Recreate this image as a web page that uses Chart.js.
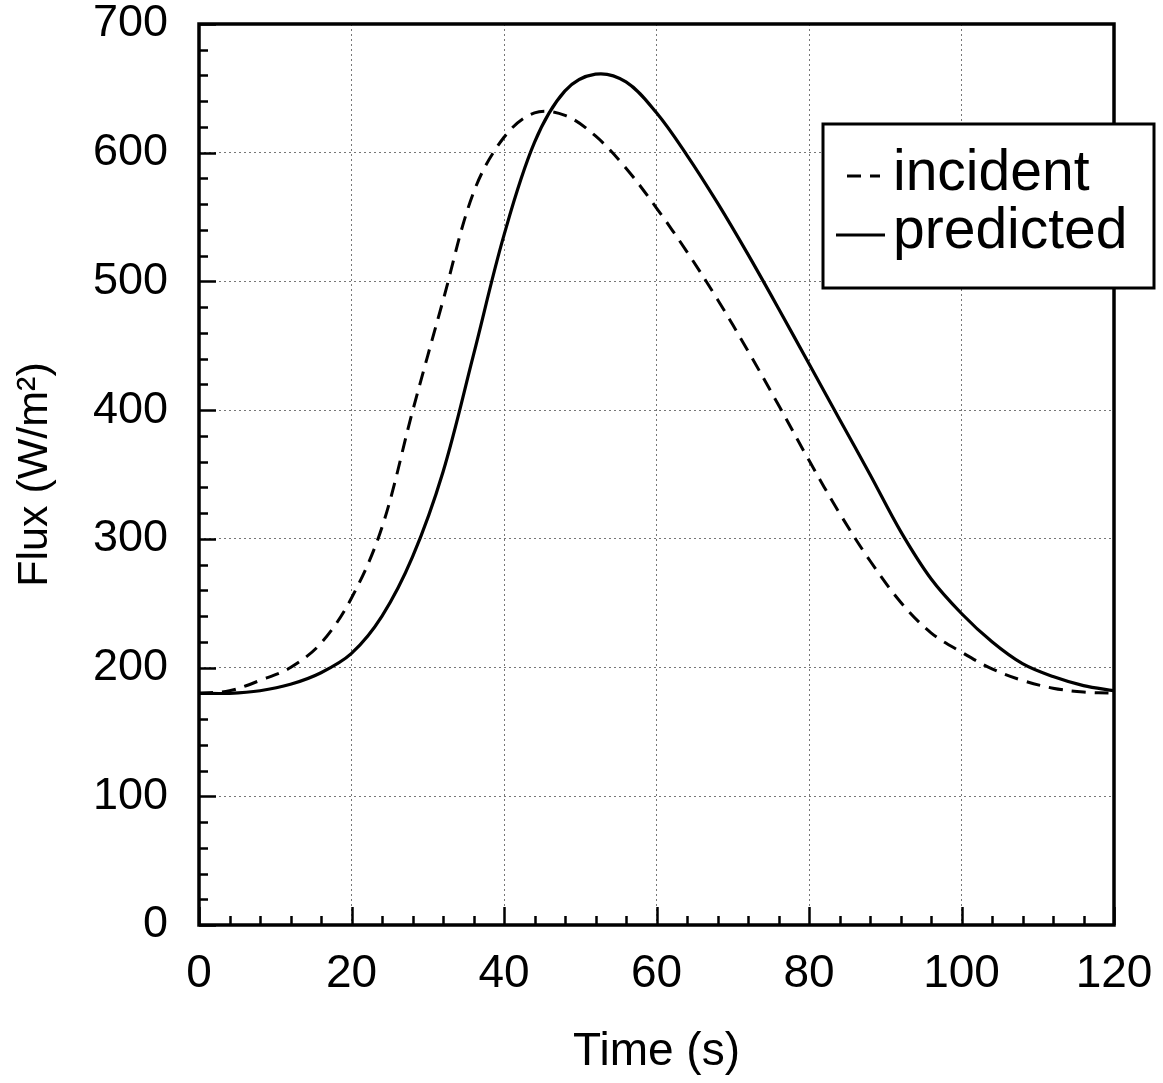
<!DOCTYPE html>
<html>
<head>
<meta charset="utf-8">
<script src="https://cdn.jsdelivr.net/npm/chart.js@4.4.1/dist/chart.umd.min.js"></script>
<style>
html, body { margin: 0; padding: 0; background: #fff; }
#wrap { width: 1163px; height: 1083px; }
</style>
</head>
<body>
<div id="wrap"><canvas id="fluxChart" width="1163" height="1083"></canvas></div>
<script>
// time (s)
var times = [0, 4, 8, 12, 16, 20, 24, 28, 32, 36, 40, 44, 48, 52, 56, 60,
    64, 68, 72, 76, 80, 84, 88, 92, 96, 100, 104, 108, 112, 116, 120];
// flux (W/m2)
var incident = [180, 182, 190, 200, 219, 254, 309, 399, 485, 569, 612, 631, 629, 613, 588, 557,
    523, 486, 446, 404, 361, 320, 283, 251, 227, 212, 199, 190, 184, 181, 180];
var predicted = [180, 180, 182, 187, 196, 211, 240, 286, 352, 443, 536, 608, 648, 661, 655, 631,
    598, 561, 521, 479, 436, 393, 350, 306, 269, 242, 220, 203, 193, 186, 182];

var seriesNames = ['incident', 'predicted'];
var xMajor = 20, xMinor = 4, xMax = 120;
var yMajor = 100, yMinor = 20, yMax = 700;

var fontName = '"Liberation Sans", Arial, Helvetica, sans-serif';

// inward ticks, frame and boxed legend like the original figure
const framePlugin = {
    id: 'frame',
    afterDraw(chart) {
        const ctx = chart.ctx;
        const a = chart.chartArea;
        const sx = chart.scales.x, sy = chart.scales.y;
        ctx.save();
        ctx.strokeStyle = '#000';
        ctx.lineWidth = 2.5;
        ctx.beginPath();
        for (let v = 0; v <= yMax; v += yMinor) {
            const y = Math.round(sy.getPixelForValue(v)) + 0.5;
            const len = v % yMajor === 0 ? 17 : 9;
            ctx.moveTo(a.left, y);
            ctx.lineTo(a.left + len, y);
        }
        for (let t = 0; t <= xMax; t += xMinor) {
            const x = Math.round(sx.getPixelForValue(t)) + 0.5;
            const len = t % xMajor === 0 ? 18 : 9;
            ctx.moveTo(x, a.bottom);
            ctx.lineTo(x, a.bottom - len);
        }
        ctx.stroke();

        ctx.lineWidth = 3.5;
        ctx.strokeRect(a.left, a.top, a.right - a.left, a.bottom - a.top);

        // legend box
        const bx = 823, by = 124, bw = 331, bh = 164;
        ctx.fillStyle = '#fff';
        ctx.fillRect(bx, by, bw, bh);
        ctx.lineWidth = 3;
        ctx.strokeRect(bx, by, bw, bh);

        ctx.fillStyle = '#000';
        ctx.font = '57px ' + fontName;
        ctx.textBaseline = 'alphabetic';
        ctx.textAlign = 'left';

        const ds = chart.data.datasets;
        ctx.lineWidth = 3;
        ctx.setLineDash(ds[0].borderDash);
        ctx.beginPath();
        ctx.moveTo(847, 176);
        ctx.lineTo(880, 176);
        ctx.stroke();
        ctx.setLineDash([]);
        ctx.beginPath();
        ctx.moveTo(836, 235);
        ctx.lineTo(885, 235);
        ctx.stroke();

        ctx.fillText(ds[0].label, 893, 190);
        ctx.fillText(ds[1].label, 893, 248);
        ctx.restore();
    }
};

const data = {
    datasets: [
        {
            label: seriesNames[0],
            data: times.map((t, i) => ({ x: t, y: incident[i] })),
            borderColor: '#000',
            borderWidth: 3,
            borderDash: [14, 9],
            pointRadius: 0,
            tension: 0.35,
            fill: false
        },
        {
            label: seriesNames[1],
            data: times.map((t, i) => ({ x: t, y: predicted[i] })),
            borderColor: '#000',
            borderWidth: 3.2,
            pointRadius: 0,
            tension: 0.35,
            fill: false
        }
    ]
};

const config = {
    type: 'line',
    data: data,
    options: {
        responsive: false,
        animation: false,
        events: [],
        layout: { padding: { left: 0, top: 24, right: 49, bottom: 0 } },
        plugins: {
            legend: { display: false },
            tooltip: { enabled: false }
        },
        scales: {
            x: {
                type: 'linear',
                min: 0,
                max: xMax,
                afterFit: s => {
                    s.height = 158;
                    s.paddingLeft = 0;
                    s.paddingRight = 0;
                },
                ticks: {
                    stepSize: xMajor,
                    color: '#000',
                    padding: 26,
                    font: { family: fontName, size: 46, lineHeight: 1 }
                },
                grid: { color: '#777', lineWidth: 1, drawTicks: false },
                border: { display: false, dash: [2, 3] },
                title: {
                    display: true,
                    text: 'Time (s)',
                    color: '#000',
                    padding: { top: 0, bottom: 8 },
                    font: { family: fontName, size: 46, lineHeight: 1 }
                }
            },
            y: {
                min: 0,
                max: yMax,
                afterFit: s => {
                    s.width = 199;
                    s.paddingTop = 0;
                    s.paddingBottom = 0;
                },
                ticks: {
                    stepSize: yMajor,
                    color: '#000',
                    padding: 31,
                    font: { family: fontName, size: 45, lineHeight: 1 }
                },
                grid: { color: '#777', lineWidth: 1, drawTicks: false },
                border: { display: false, dash: [2, 3] },
                title: {
                    display: true,
                    text: 'Flux (W/m²)',
                    color: '#000',
                    padding: { top: 14, bottom: 0 },
                    font: { family: fontName, size: 43, lineHeight: 1 }
                }
            }
        }
    },
    plugins: [framePlugin]
};

new Chart('fluxChart', config);
</script>
</body>
</html>
